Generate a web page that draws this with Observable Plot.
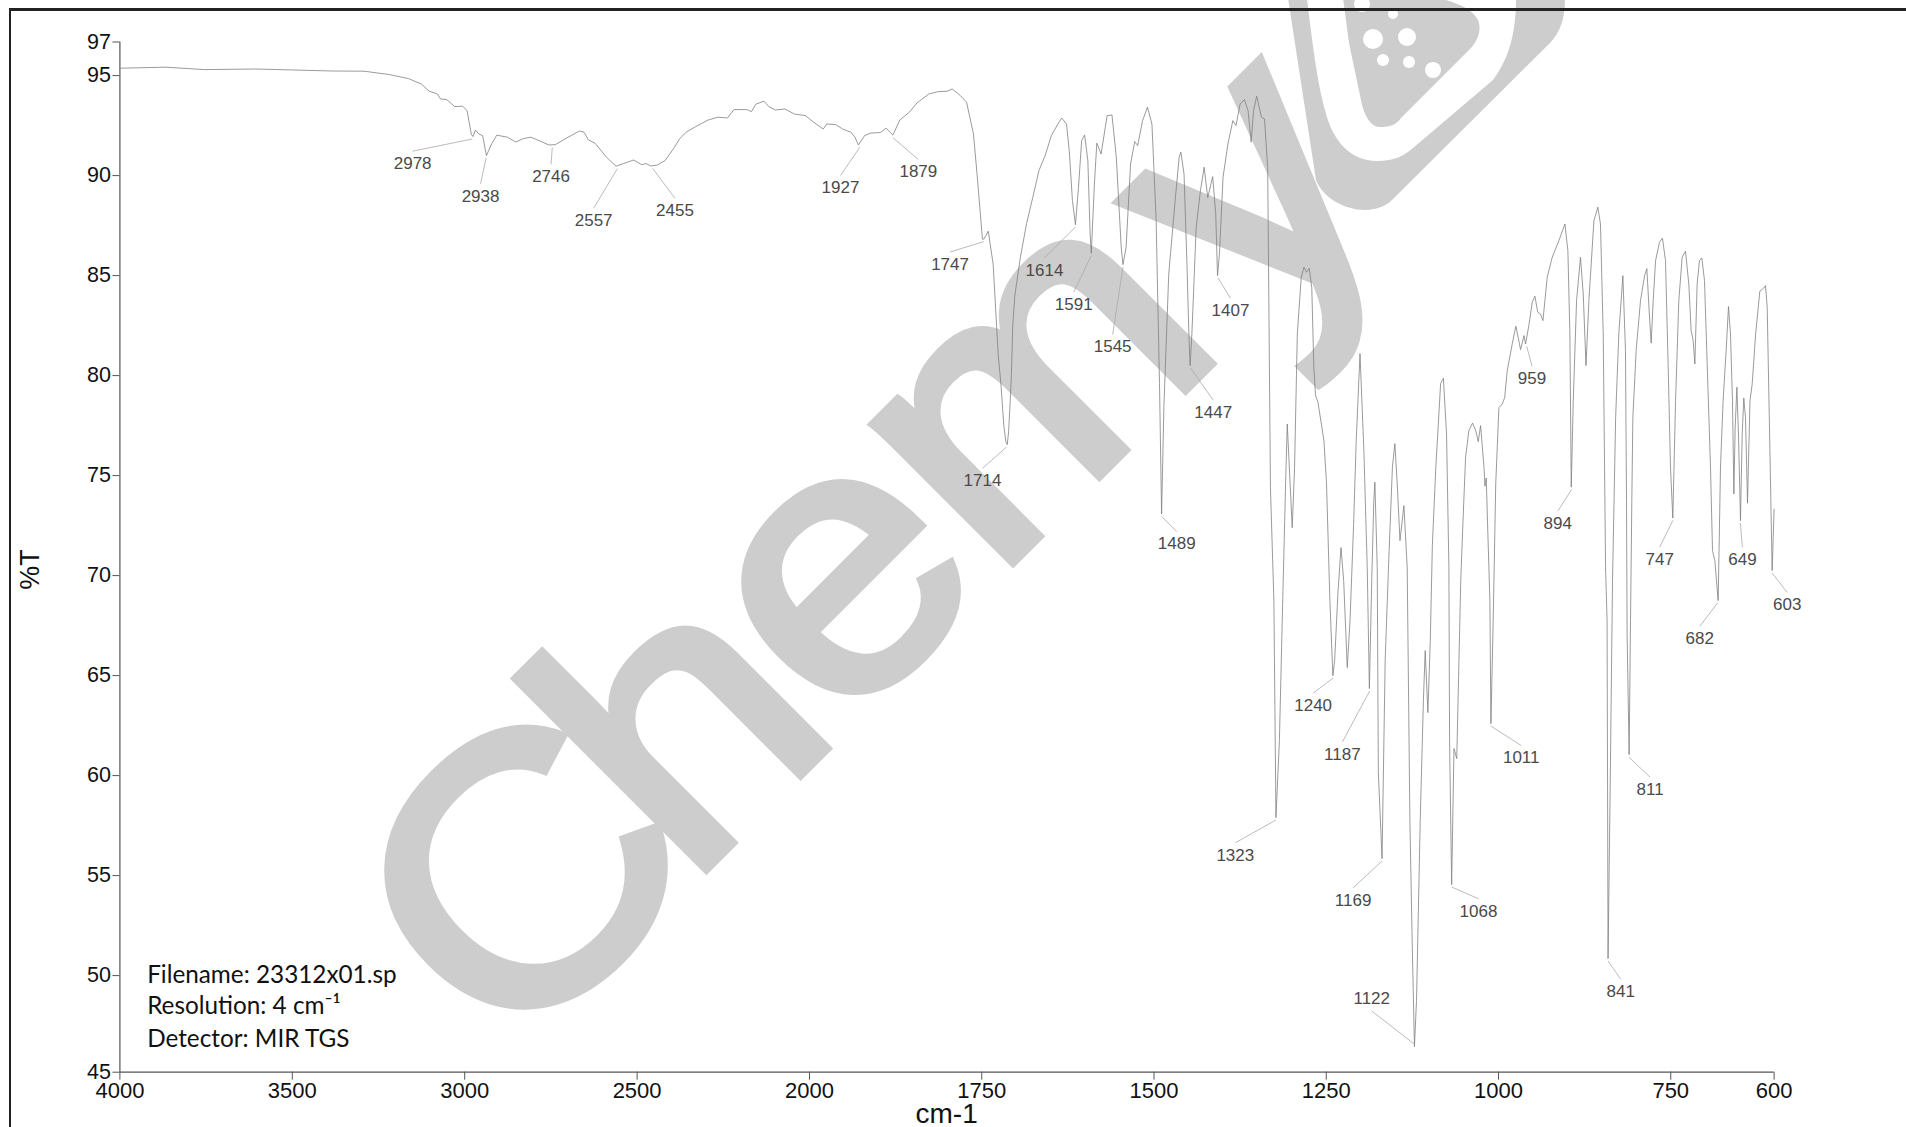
<!DOCTYPE html>
<html><head><meta charset="utf-8">
<script src="https://cdn.jsdelivr.net/npm/d3@7"></script>
<script src="https://cdn.jsdelivr.net/npm/@observablehq/plot@0.6"></script>
<style>
html,body{margin:0;padding:0;background:#fff;overflow:hidden}
#frame{position:absolute;left:9px;top:8px;width:1920px;height:1200px;border-top:3px solid #222;border-left:2.5px solid #222;pointer-events:none}
</style></head><body>
<div id="frame"></div>
<div id="chart"></div>
<script>
// spectrum, wavenumber (cm-1) and %T
const wnA=[4000,3867,3755,3606,3495,3384,3292,3218,3163,3126,3103,3079,3070,3052,3029,3006,2993,2981,2976,2969,2959,2948,2937,2922,2907,2876,2852,2830,2808,2774];
const tA =[95.37,95.42,95.3,95.33,95.28,95.23,95.22,95.05,94.85,94.58,94.22,94.08,93.83,93.8,93.45,93.47,93.25,92.08,91.95,92.28,92.08,92.0,91.0,91.58,92.02,91.92,91.68,91.85,91.92,91.67];
const wnB=[2756,2737,2700,2667,2654,2641,2622,2589,2561,2543,2510,2487,2474,2460,2441,2419,2395,2377,2358,2330,2294,2266,2238,2219,2182,2168,2155,2132,2118,2099,2071,2044,2012];
const tB =[91.53,91.55,91.92,92.23,92.17,91.78,91.62,90.92,90.47,90.58,90.78,90.55,90.6,90.48,90.53,90.75,91.33,91.83,92.17,92.45,92.78,92.92,92.88,93.3,93.3,93.2,93.58,93.72,93.45,93.28,93.33,93.08,93.0];
const wnC=[1994,1980,1975,1962,1952,1940,1934,1929,1920,1911,1897,1889,1883,1879,1869,1855,1844,1827,1813,1800,1793,1781,1772,1762,1756,1749,1747,1740.5,1733.5,1726];
const tC =[92.67,92.33,92.58,92.55,92.33,92.17,91.92,91.53,92.0,92.13,92.15,92.37,92.17,92.02,92.78,93.17,93.63,94.08,94.2,94.22,94.33,94.0,93.67,92.08,89.75,86.82,86.82,87.22,85.58,81];
const wnD=[1722,1718,1715,1713,1711,1709,1707,1705,1702,1694,1685,1676,1667,1658,1649,1638,1634,1627,1623,1618.4,1614,1609.6,1605,1600.7,1596,1592.7,1591,1586.5,1583,1576.8];
const tD =[79.5,77.5,76.7,76.55,77.2,78.5,80,82.5,84,85.9,87.6,88.9,90.25,91,92,92.67,92.88,92.58,91.25,88.75,87.55,89.4,91.75,92.03,90.75,87.08,86.12,89.58,91.62,91.08];
const wnE=[1568,1561,1554.7,1547.6,1545,1540.5,1534,1528,1523.7,1516.6,1509.5,1503,1497,1492,1489,1485.6,1478.6,1469.7,1463.5,1461,1456.4,1452,1449.4,1447.6,1445,1438.8,1432.6,1427.2,1422,1414.8];
const tE =[93.0,93.03,90.92,86.42,85.55,86.42,90.58,91.7,91.5,92.75,93.42,92.58,87.9,79.6,73.08,78.5,85.08,88.6,90.92,91.17,90.08,85.4,82.08,80.5,82.1,87.4,89.25,90.42,88.9,89.95];
const wnF=[1410.4,1407.8,1405,1399.8,1392.7,1385.6,1381,1375,1368.8,1363.5,1359,1355.5,1351,1344,1339.6,1335,1331,1326,1323,1318,1313.6,1309,1306.6,1299.4,1296,1292,1286.3,1282.4,1278.6,1274.7];
const tF =[88.1,85.0,86.1,89.92,91.58,92.75,92.5,93.58,93.8,93.25,91.67,93.25,93.97,92.92,92.83,90.42,74.4,68.75,57.9,61.75,68.15,74.6,77.58,72.4,75.4,82.08,84.92,85.42,85.17,85.37];
const wnG=[1271,1268,1265.5,1262,1253.4,1249.6,1244.7,1240.4,1237.8,1233,1228.6,1224.7,1219.5,1215.5,1210.3,1206.5,1201,1195.4,1190.5,1187.4,1184,1181,1179.4,1176,1174.4,1169,1164.5,1159.3,1154,1150.4];
const tG =[84.4,80.4,79,78.67,76.75,74.6,68.75,65,65.75,69.15,71.4,69.75,65.4,67.75,72.55,76.75,81.1,76.25,70.4,64.35,69.75,73.75,74.67,70.4,60.15,55.85,65.75,70.75,75.4,76.6];
const wnH=[1147,1143,1137.3,1132.5,1128.6,1125.3,1122,1119,1113.6,1109,1106.4,1102.5,1099,1096,1091,1084,1080,1075.4,1072,1071,1068,1064.6,1060.6,1058.7,1054.8,1051.5,1047.8,1043,1037.6,1033];
const tH =[74.6,71.75,73.5,70.4,57.75,51.75,46.45,48.75,57.75,63.75,66.25,63.15,66.75,71.5,75.4,79.6,79.87,77.08,70.4,61.75,54.55,61.35,60.85,63.75,69.75,72.75,75.9,77.25,77.63,77.25];
const wnI=[1029.4,1026,1021,1019.7,1017.8,1015.4,1012.5,1011,1007.7,1004,999.4,994.6,991,987.3,980,974.8,971.4,968,963,960.7,956,951,947.2,943,939,935.5,929.3,922,912.3,903.6];
const tI =[76.7,77.5,75.4,74.47,74.88,72.08,68.75,62.6,67.75,74.6,78.4,78.58,78.9,80.25,81.6,82.47,81.9,81.3,82,81.58,82.5,83.67,83.97,83.17,83.08,82.75,84.92,85.92,86.75,87.58];
const wnJ=[899.3,896.4,894.4,891.5,886.7,881,877,873,868.8,861.5,855.8,852,848,844.6,842.4,841,837.8,834.5,830,825.4,819.5,815.7,814.2,813.3,810.4,808.4,806.5,805,800.2,793.9];
const tJ =[86.25,82.08,74.42,78.75,83.75,85.92,84.08,80.5,83.75,87.75,88.42,87.58,82.08,70.4,67.75,50.85,59.75,69.75,77.9,82.08,85,81.25,73.75,67,61.05,67.75,73.75,77.9,81.25,83.75];
const wnK=[788,784.7,780.8,778.4,775.5,772,766.3,762,757.6,753.7,750.4,747,743,738.3,733.4,728.6,723.8,720.4,717.5,715,711.7,708.3,704.9,701,696.2,692.3,689.4,686,681.2,677.8];
const tK =[85,85.35,82.92,81.62,83.75,85.75,86.67,86.87,85.75,80.42,75.42,72.88,78.75,83.75,85.92,86.22,84.58,82.25,81.75,80.58,84.58,85.75,85.88,84.75,79.58,75.42,71.25,70.75,68.75,75.42];
const wnL=[674,669.6,666.2,663.3,660.4,658.4,656.5,654,651.7,648.8,646.3,644,641.5,638.6,635,631.8,626.8,620.7,615,612.5,610,606.7,602.8,600];
const tL =[78.75,81.25,83.45,82.08,78.75,74.08,77.42,79.42,77.08,72.75,77.08,78.88,77.9,73.62,78.75,79.58,82.08,84.22,84.38,84.5,83.42,77.42,70.25,73.33];

// annotated peaks: name, position of the peak, position of its label
const peakName=[2978,2938,2746,2557,2455,1927,1879,1747,1714,1614,1591,1545,1489,1447,1407,1323,1240,1187,1169,1122,1068,1011,959,894,841,811,747,682,649,603];
const peakT=[91.95,91.0,91.53,90.47,90.48,91.53,92.02,86.82,76.55,87.55,86.12,85.55,73.08,80.5,85.0,57.9,65,64.35,55.85,46.45,54.55,62.6,81.58,74.42,50.85,61.05,72.88,68.75,72.75,70.25];
const labelWn=[3151,2954,2749.5,2626,2390,1955,1842,1796,1749,1659,1616.5,1560,1467,1414,1389,1382,1269,1226.6,1211,1184,1029,967,951.4,914,822.6,780,766,708,646,581];
const labelT=[90.6,88.97,89.94,87.75,88.24,89.39,90.18,85.56,74.74,85.26,83.56,81.43,71.58,78.15,83.25,56.02,63.5,61.06,53.77,48.85,53.22,60.88,79.85,72.6,49.2,59.3,70.8,66.84,70.8,68.54];

const xTicks=[4000,3500,3000,2500,2000,1750,1500,1250,1000,750,600];
const yTicks=[96.68,95,90,85,80,75,70,65,60,55,50,45.17];
const xBreaks=[4000,2000,600];
const infoLines=["Filename: 23312x01.sp","Resolution: 4 cm\u207B\u00B9","Detector: MIR TGS"];
const infoWn=3921, infoT=[50,48.45,46.82];

const wnAll=[...wnA,...wnB,...wnC,...wnD,...wnE,...wnF,...wnG,...wnH,...wnI,...wnJ,...wnK,...wnL];
const tAll=[...tA,...tB,...tC,...tD,...tE,...tF,...tG,...tH,...tI,...tJ,...tK,...tL];
const spectrum=d3.zip(wnAll,tAll).map(([w,t])=>({w,t}));
const peaks=peakName.map((n,i)=>{
  const s=Math.sign(peakT[i]-labelT[i]);
  return {n,w:n,t:peakT[i]-s*0.12,lw:labelWn[i],lt:labelT[i],lead:labelT[i]+s*0.62};
});

// watermark logo, decorative background drawn behind the spectrum
function logo(){
  const g=d3.create("svg:g").attr("fill","#cdcdcd");
  g.append("path").attr("d","M1288,-2 L1316,180 C1323,198 1345,210 1365,210 C1378,210 1388,205 1395,197 L1550,43 C1560,32 1565,20 1565,-2 L1516,-2 C1516,40 1506,62 1493,80 L1413,148 C1405,155 1395,161 1377,161 C1350,161 1332,140 1325,110 C1318,85 1313,50 1307,-2 Z");
  g.append("path").attr("d","M1343,-2 L1349,43 L1362,105 C1366,120 1373,127 1380,127 C1390,127 1396,125 1401,118 L1471,48 C1480,38 1481,27 1478,20 C1472,8 1455,2 1438,-2 Z");
  const holes=[[1373,39,10],[1407,37,9],[1383,60,6],[1409,62,6],[1433,70,8],[1393,14,5],[1362,4,8]];
  holes.forEach(([cx,cy,r])=>g.append("circle").attr("cx",cx).attr("cy",cy).attr("r",r).attr("fill","#fff"));
  return g.node();
}

const plot=Plot.plot({
  width:1906,height:1127,
  marginLeft:119.4,marginRight:132.4,marginTop:41.5,marginBottom:55.3,
  style:{background:"transparent",fontFamily:"'Liberation Sans',Arial,sans-serif",overflow:"visible"},
  x:{type:"linear",domain:xBreaks,range:[119.4,809,1773.6],label:null},
  y:{domain:[45.17,96.68],label:null},
  marks:[
    Plot.text(["Chemy"],{x:()=>3116.6,y:()=>49.65,rotate:-45,fontSize:370,fontWeight:400,fill:"#cdcdcd",stroke:"#cdcdcd",strokeWidth:10,strokeLinejoin:"miter",fontFamily:"'Liberation Sans',Arial,sans-serif",textAnchor:"start",lineAnchor:"middle",className:"wm"}),
    logo,
    Plot.axisX({ticks:xTicks,tickSize:8,tickPadding:2,fontSize:22,stroke:"#555",color:"#111",label:null,tickFormat:d=>String(d)}),
    Plot.axisY({ticks:yTicks,tickSize:7,tickPadding:2,fontSize:21.5,stroke:"#555",color:"#111",label:null,tickFormat:d=>String(Math.round(d))}),
    Plot.ruleX([4000],{stroke:"#555",strokeWidth:1.2}),
    Plot.ruleY([45.17],{stroke:"#555",strokeWidth:1.2}),
    Plot.line(spectrum,{x:"w",y:"t",stroke:"#808080",strokeWidth:0.8}),
    Plot.link(peaks,{x1:"w",y1:"t",x2:"lw",y2:"lead",stroke:"#aaa",strokeWidth:0.8}),
    Plot.text(peaks,{x:"lw",y:"lt",text:d=>String(d.n),fontSize:17,fill:"#4a4a4a",lineAnchor:"middle"}),
    Plot.text(infoLines,{x:()=>infoWn,y:(d,i)=>infoT[i],textAnchor:"start",lineAnchor:"middle",fontSize:24.3,fill:"#111",fontFamily:"Lato"}),
    Plot.text(["%T"],{x:()=>4000,y:()=>70.3,dx:-90,rotate:-90,fontSize:27,fill:"#111",lineAnchor:"middle"}),
    Plot.text(["cm-1"],{x:()=>1801,y:()=>45.17,dy:42,fontSize:28,fill:"#111",lineAnchor:"middle"})
  ]
});
document.getElementById("chart").appendChild(plot);
// watermark letter fitting: wider glyphs and per-letter nudges
const wm=d3.select(plot).select(".wm text");
wm.attr("transform",wm.attr("transform")+" scale(1.08,1)").attr("dx","0 -33 -6 -4 22").attr("dy","0 0 0 0 16");
</script></body></html>
